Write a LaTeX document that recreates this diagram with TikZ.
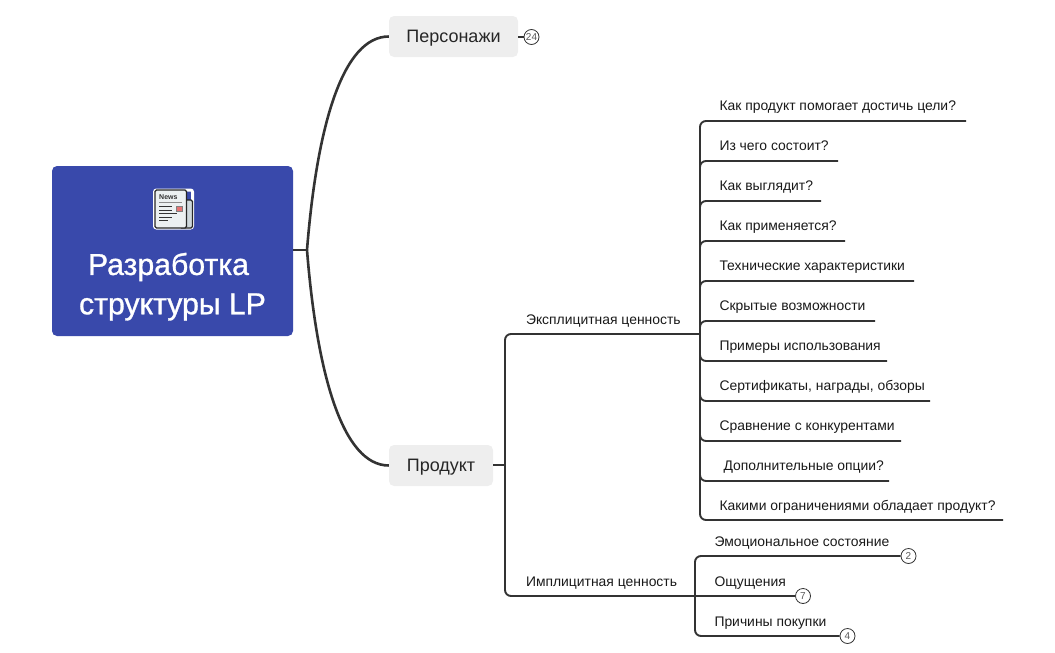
\documentclass[tikz,border=0pt]{standalone}
\usepackage{fontspec}
\setmainfont{Liberation Sans}
\newfontfamily\rootfont[FakeBold=1]{Liberation Sans}
\usetikzlibrary{positioning}
\definecolor{rootBlue}{HTML}{3949AB}
\definecolor{lineDark}{HTML}{333333}
\definecolor{topicGray}{HTML}{EEEEEE}
\definecolor{pageFront}{HTML}{ECF0F1}
\definecolor{pageBack}{HTML}{CFD8DC}
\definecolor{stampRed}{HTML}{E57373}
\begin{document}
\begin{tikzpicture}[x=1pt,y=-1pt]
\tikzset{myRoot/.style={fill=rootBlue,draw=none,rounded corners=5pt,minimum width=241pt,minimum height=170pt}}
\tikzset{myRootText/.style={anchor=center,inner sep=0pt,text=white,font=\rootfont\fontsize{30.2}{32}\selectfont}}
\tikzset{myTopic/.style={fill=topicGray,rounded corners=5pt,minimum height=41pt,text height=13pt,text depth=1pt,font=\fontsize{18}{20}\selectfont,text=black!85}}
\tikzset{myLeaf/.style={inner sep=0pt,outer sep=0pt,text height=10pt,text depth=3pt,font=\fontsize{13.9}{16}\selectfont,text=black!90}}
\tikzset{myBig/.style={line width=2.6pt,draw=lineDark}}
\tikzset{myLine/.style={line width=1.9pt,draw=lineDark,rounded corners=6pt}}
\tikzset{myCount/.style={draw=lineDark,fill=white,circle,line width=.8pt,inner sep=0pt,minimum size=15pt,font=\fontsize{10}{10}\selectfont,text=black!65}}
\tikzset{myPage/.style={draw=black!85,line width=1.3pt,rounded corners=1.5pt}}
\tikzset{myRule/.style={black!80,line width=.9pt}}
\useasboundingbox (0,0) rectangle (1055,653);

% main topics
\node[myRoot] (root) at (172.5,251) {};
\node[myRootText] (rootA) at (168.5,267) {Разработка};
\node[myRootText] (rootB) at (172.5,307) {структуры LP};
\node[myTopic,minimum width=129pt] (persons) at (453.5,36.5) {Персонажи};
\node[myTopic,minimum width=104pt] (product) at (441,465.5) {Продукт};

\coordinate (rootHub) at (307,250);
\coordinate (prodHub) at (505,465);
\coordinate (expHub) at (700,334);
\coordinate (impHub) at (695,596);

\draw[myBig] (root.east |- rootHub) -- (rootHub);
\draw[myBig] (rootHub) .. controls +(10,-125) and +(-46,0) .. (persons.west);
\draw[myBig] (rootHub) .. controls +(10,125) and +(-46,0) .. (product.west);
\draw[myLine] (product.east |- prodHub) -- (prodHub);

% values
\node[myLeaf,anchor=west] (expText) at (526,320.5) {Эксплицитная ценность};
\node[myLeaf,anchor=west] (impText) at (526,582.5) {Имплицитная ценность};
\draw[myLine] (prodHub) |- (expHub);
\coordinate (n7) at (795,596);
\draw[myLine] (prodHub) |- (n7);

% explicit questions
\node[myLeaf,anchor=west] (q1) at (719.5,106.5) {Как продукт помогает достичь цели?};
\node[myLeaf,below=27pt of q1.south west,anchor=north west] (q2) {Из чего состоит?};
\node[myLeaf,below=27pt of q2.south west,anchor=north west] (q3) {Как выглядит?};
\node[myLeaf,below=27pt of q3.south west,anchor=north west] (q4) {Как применяется?};
\node[myLeaf,below=27pt of q4.south west,anchor=north west] (q5) {Технические характеристики};
\node[myLeaf,below=27pt of q5.south west,anchor=north west] (q6) {Скрытые возможности};
\node[myLeaf,below=27pt of q6.south west,anchor=north west] (q7) {Примеры использования};
\node[myLeaf,below=27pt of q7.south west,anchor=north west] (q8) {Сертификаты, награды, обзоры};
\node[myLeaf,below=27pt of q8.south west,anchor=north west] (q9) {Сравнение с конкурентами};
\node[myLeaf,below=27pt of q9.south west,anchor=north west,xshift=4pt] (q10) {Дополнительные опции?};
\node[myLeaf,below=27pt of q9.south west,anchor=north west,yshift=-40pt] (q11) {Какими ограничениями обладает продукт?};

\coordinate (e1) at (966,121);
\coordinate (e2) at (838,161);
\coordinate (e3) at (821,201);
\coordinate (e4) at (845,241);
\coordinate (e5) at (914,281);
\coordinate (e6) at (875,321);
\coordinate (e7) at (887,361);
\coordinate (e8) at (930,401);
\coordinate (e9) at (901,441);
\coordinate (e10) at (889,481);
\coordinate (e11) at (1003,520);
\foreach \i in {1,...,11}
  \draw[myLine] (expHub) |- (e\i);

% implicit items
\node[myLeaf,anchor=west] (r1) at (714.5,542.5) {Эмоциональное состояние};
\node[myLeaf,below=27pt of r1.south west,anchor=north west] (r2) {Ощущения};
\node[myLeaf,below=27pt of r2.south west,anchor=north west] (r3) {Причины покупки};

\node[myCount] (c24) at (531.5,37) {24};
\node[myCount] (c2) at (908.5,556) {2};
\node[myCount] (c7) at (803,596) {7};
\node[myCount] (c4) at (847.5,636) {4};
\draw[myLine] (impHub) |- (c2.west);
\draw[myLine] (impHub) |- (c4.west);
\draw[line width=1.5pt,draw=lineDark] (persons.east |- c24) -- (c24.west);

% newspaper icon
\draw[white,line width=3pt,rounded corners=2pt] (154.5,190) rectangle (192.5,228);
\draw[myPage,fill=pageBack] (180,200) rectangle (192.5,228);
\draw[myPage,fill=pageFront] (155,190) rectangle (186.5,228);
\node[inner sep=0pt,anchor=west,font=\bfseries\fontsize{7}{7}\selectfont,text=black!80] (news) at (159,197.5) {News};
\draw[black!45,line width=.9pt] (159,202) -- (182,202);
\draw[myRule] (159,206.500) -- (172,206.500);
\draw[myRule] (159,210) -- (172,210);
\draw[myRule] (159,213.500) -- (177,213.500);
\draw[myRule] (159,217) -- (172,217);
\draw[myRule] (159,220.500) -- (168,220.500);
\draw[fill=stampRed,draw=black!50,line width=.5pt] (176.500,206) rectangle (182,211);
\end{tikzpicture}
\end{document}
